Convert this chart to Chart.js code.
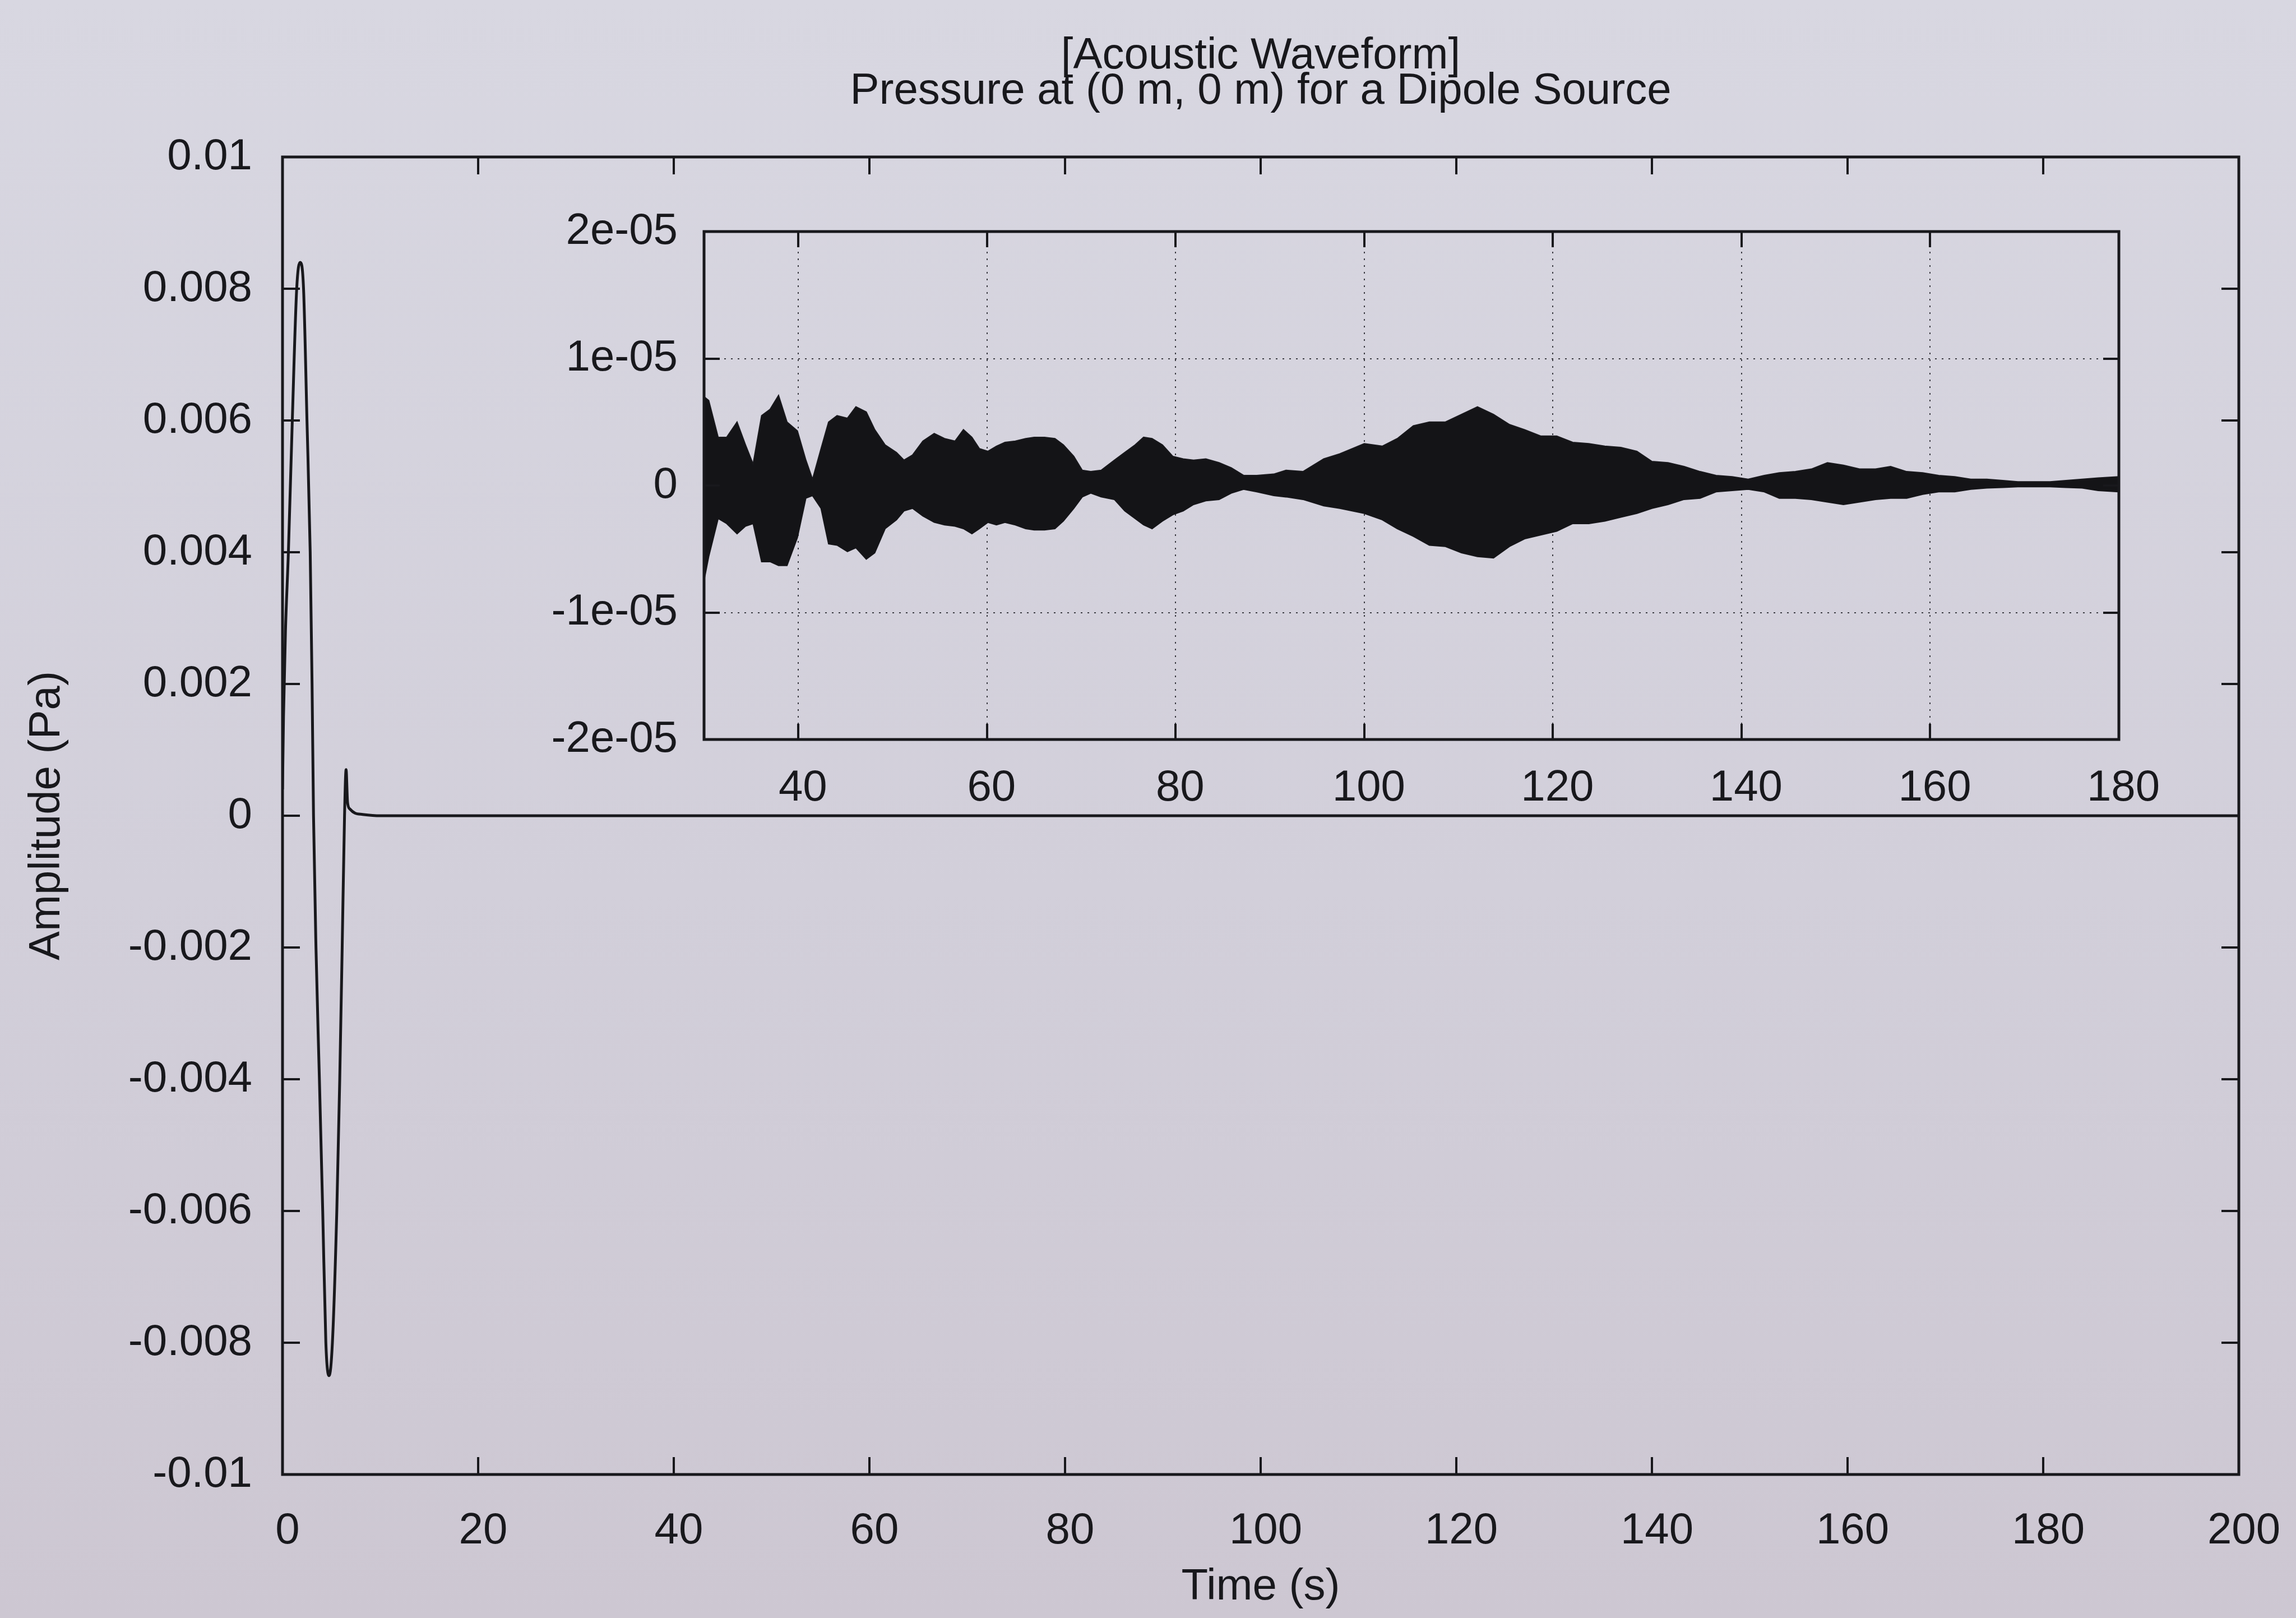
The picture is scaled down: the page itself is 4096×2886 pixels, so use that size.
<!DOCTYPE html>
<html>
<head>
<meta charset="utf-8">
<title>Acoustic Waveform</title>
<script src="https://cdn.jsdelivr.net/npm/chart.js@4.4.1/dist/chart.umd.min.js"></script>
<style>
  html, body { margin: 0; padding: 0; }
  body {
    width: 4096px; height: 2886px; position: relative; overflow: hidden;
    background: linear-gradient(180deg, #d8d7e1 0%, #d2cfda 55%, #cdc7d2 100%);
  }
  #main { position: absolute; left: 0; top: 0; width: 4096px; height: 2886px; }
  #inset { position: absolute; left: 956px; top: 363px; width: 2974px; height: 1106px; }
</style>
</head>
<body>
<canvas id="main" width="4096" height="2886"></canvas>
<canvas id="inset" width="2974" height="1106"></canvas>
<script>
// pressure at the receiver during the direct pulse (s, Pa)
const pulseTime = [0, 0.1, 0.3, 0.6, 1.0, 1.45, 1.8, 2.15, 2.5, 2.83, 3.02, 3.17, 3.42, 3.77, 4.11,
  4.43, 4.76, 5.1, 5.55, 5.85, 6.1, 6.34, 6.5, 6.65, 6.9, 7.4, 8.2, 10, 200];
const pulsePressure = [0.0004, 0.0015, 0.0028, 0.004, 0.006, 0.008, 0.0084, 0.008, 0.006, 0.004, 0.002, 0,
  -0.002, -0.004, -0.006, -0.008, -0.0085, -0.008, -0.006, -0.004, -0.002, 0, 0.0007, 0.0002, 0.0001,
  0.00004, 0.00002, 0, 0];

// late arrivals (30-180 s): upper and lower envelope of the oscillation (Pa)
const insetTime = [30, 30.5, 31.5, 32.4, 33.5, 34.4, 35.2, 36.1, 37.0, 37.9, 38.8, 39.9, 40.8, 41.5,
  42.4, 43.2, 44.1, 45.2, 46.1, 47.2, 48.1, 49.2, 50.4, 51.2, 52.1, 53.2, 54.4, 55.5, 56.6, 57.5, 58.4,
  59.2, 60.1, 61.0, 61.9, 63.0, 64.1, 65.0, 66.1, 67.2, 68.1, 69.2, 70.1, 71.0, 72.1, 73.5, 74.6, 75.7,
  76.6, 77.5, 78.6, 79.7, 80.8, 81.9, 83.2, 84.6, 85.9, 87.2, 88.6, 90.4, 91.7, 93.5, 95.7, 97.4, 100,
  101.9, 103.5, 105.2, 106.9, 108.6, 110.3, 112.0, 113.7, 115.4, 117.0, 118.7, 120.4, 122.1, 123.8,
  125.5, 127.2, 128.9, 130.5, 132.2, 133.9, 135.6, 137.3, 139.0, 140.7, 142.4, 144.0, 145.7, 147.4,
  149.1, 150.8, 152.5, 154.2, 155.8, 157.5, 159.2, 160.9, 162.6, 164.3, 166.0, 167.7, 169.3, 171.0,
  172.7, 174.4, 176.1, 177.8, 180];
const insetUpper = [0.70e-5, 0.67e-5, 0.38e-5, 0.38e-5, 0.50e-5, 0.32e-5, 0.17e-5, 0.55e-5, 0.60e-5,
  0.71e-5, 0.50e-5, 0.43e-5, 0.20e-5, 0.05e-5, 0.29e-5, 0.50e-5, 0.55e-5, 0.53e-5, 0.62e-5, 0.58e-5,
  0.44e-5, 0.32e-5, 0.26e-5, 0.20e-5, 0.24e-5, 0.35e-5, 0.41e-5, 0.37e-5, 0.35e-5, 0.44e-5, 0.38e-5,
  0.29e-5, 0.27e-5, 0.31e-5, 0.34e-5, 0.35e-5, 0.37e-5, 0.38e-5, 0.38e-5, 0.37e-5, 0.32e-5, 0.23e-5,
  0.12e-5, 0.11e-5, 0.12e-5, 0.20e-5, 0.26e-5, 0.32e-5, 0.38e-5, 0.37e-5, 0.32e-5, 0.23e-5, 0.21e-5,
  0.20e-5, 0.21e-5, 0.18e-5, 0.14e-5, 0.08e-5, 0.08e-5, 0.09e-5, 0.12e-5, 0.11e-5, 0.21e-5, 0.25e-5,
  0.33e-5, 0.31e-5, 0.37e-5, 0.47e-5, 0.50e-5, 0.50e-5, 0.56e-5, 0.62e-5, 0.56e-5, 0.48e-5, 0.44e-5,
  0.39e-5, 0.39e-5, 0.34e-5, 0.33e-5, 0.31e-5, 0.30e-5, 0.27e-5, 0.19e-5, 0.18e-5, 0.15e-5, 0.11e-5,
  0.08e-5, 0.07e-5, 0.05e-5, 0.08e-5, 0.10e-5, 0.11e-5, 0.13e-5, 0.18e-5, 0.16e-5, 0.13e-5, 0.13e-5,
  0.15e-5, 0.11e-5, 0.10e-5, 0.08e-5, 0.07e-5, 0.05e-5, 0.05e-5, 0.04e-5, 0.03e-5, 0.03e-5, 0.03e-5,
  0.04e-5, 0.05e-5, 0.06e-5, 0.07e-5];
const insetLower = [-0.75e-5, -0.56e-5, -0.26e-5, -0.30e-5, -0.38e-5, -0.32e-5, -0.30e-5, -0.60e-5,
  -0.60e-5, -0.63e-5, -0.63e-5, -0.41e-5, -0.10e-5, -0.08e-5, -0.18e-5, -0.46e-5, -0.47e-5, -0.52e-5,
  -0.49e-5, -0.58e-5, -0.53e-5, -0.34e-5, -0.27e-5, -0.20e-5, -0.18e-5, -0.24e-5, -0.29e-5, -0.31e-5,
  -0.32e-5, -0.34e-5, -0.38e-5, -0.34e-5, -0.29e-5, -0.31e-5, -0.29e-5, -0.31e-5, -0.34e-5, -0.35e-5,
  -0.35e-5, -0.34e-5, -0.28e-5, -0.18e-5, -0.09e-5, -0.06e-5, -0.09e-5, -0.11e-5, -0.20e-5, -0.26e-5,
  -0.31e-5, -0.34e-5, -0.28e-5, -0.23e-5, -0.20e-5, -0.15e-5, -0.12e-5, -0.11e-5, -0.06e-5, -0.03e-5,
  -0.05e-5, -0.08e-5, -0.09e-5, -0.11e-5, -0.16e-5, -0.18e-5, -0.22e-5, -0.27e-5, -0.34e-5, -0.40e-5,
  -0.47e-5, -0.48e-5, -0.53e-5, -0.56e-5, -0.57e-5, -0.48e-5, -0.42e-5, -0.39e-5, -0.36e-5, -0.30e-5,
  -0.30e-5, -0.28e-5, -0.25e-5, -0.22e-5, -0.18e-5, -0.15e-5, -0.11e-5, -0.10e-5, -0.05e-5, -0.04e-5,
  -0.03e-5, -0.05e-5, -0.10e-5, -0.10e-5, -0.11e-5, -0.13e-5, -0.15e-5, -0.13e-5, -0.11e-5, -0.10e-5,
  -0.10e-5, -0.07e-5, -0.05e-5, -0.05e-5, -0.03e-5, -0.02e-5, -0.015e-5, -0.01e-5, -0.01e-5, -0.01e-5,
  -0.015e-5, -0.02e-5, -0.04e-5, -0.05e-5];

// tick values
const mainXTicks = [0, 20, 40, 60, 80, 100, 120, 140, 160, 180, 200];
const mainYTicks = [-0.01, -0.008, -0.006, -0.004, -0.002, 0, 0.002, 0.004, 0.006, 0.008, 0.01];
const insetXTicks = [40, 60, 80, 100, 120, 140, 160, 180];
const insetYTicks = [-2e-5, -1e-5, 0, 1e-5, 2e-5];

const titleLines = ['[Acoustic Waveform]', 'Pressure at (0 m, 0 m) for a Dipole Source'];

const inkColor = '#18181c';
const fontSize = 78;
const fontFamily = "'Liberation Sans', Arial, Helvetica, sans-serif";
Chart.defaults.font.family = fontFamily;
Chart.defaults.font.size = fontSize;
Chart.defaults.color = inkColor;

// closed frame with inward tick marks on all four sides
const gnuFrame = {
  id: 'gnuFrame',
  afterDatasetsDraw(chart, args, opts) {
    const { ctx, chartArea: a, scales: { x, y } } = chart;
    const len = opts.tickLength;
    ctx.save();
    ctx.strokeStyle = inkColor;
    ctx.lineWidth = opts.tickWidth;
    ctx.beginPath();
    x.ticks.forEach(t => {
      const px = Math.round(x.getPixelForValue(t.value));
      if (px <= a.left + 2 || px >= a.right - 2) return;
      ctx.moveTo(px, a.bottom); ctx.lineTo(px, a.bottom - len);
      ctx.moveTo(px, a.top); ctx.lineTo(px, a.top + len);
    });
    y.ticks.forEach(t => {
      const py = Math.round(y.getPixelForValue(t.value));
      if (py <= a.top + 2 || py >= a.bottom - 2) return;
      ctx.moveTo(a.left, py); ctx.lineTo(a.left + len, py);
      ctx.moveTo(a.right, py); ctx.lineTo(a.right - len, py);
    });
    ctx.stroke();
    ctx.lineWidth = opts.lineWidth;
    ctx.strokeRect(a.left, a.top, a.width, a.height);
    ctx.restore();
  }
};

// two-line heading centred over the plot area
const plotTitle = {
  id: 'plotTitle',
  afterDraw(chart, args, opts) {
    if (!opts.lines) return;
    const { ctx, chartArea: a } = chart;
    ctx.save();
    ctx.font = `${fontSize}px ${fontFamily}`;
    ctx.fillStyle = inkColor;
    ctx.textAlign = 'center';
    ctx.textBaseline = 'middle';
    const cx = (a.left + a.right) / 2;
    opts.lines.forEach((line, i) => ctx.fillText(line, cx, opts.top + i * opts.gap));
    ctx.restore();
  }
};

// keep the axis boxes at a fixed size so the plot area lands where it should
const fixWidth = w => scale => { scale.width = w; scale.paddingTop = 0; scale.paddingBottom = 0; };
const fixHeight = h => scale => { scale.height = h; scale.paddingLeft = 0; scale.paddingRight = 0; };
const useTicks = values => scale => { scale.ticks = values.map(v => ({ value: v })); };

const toPoints = (xs, ys) => xs.map((t, i) => ({ x: t, y: ys[i] }));

// main plot: 0-200 s
new Chart(document.getElementById('main'), {
  type: 'line',
  data: {
    datasets: [{
      label: 'pressure',
      data: toPoints(pulseTime, pulsePressure),
      borderColor: inkColor,
      borderWidth: 5,
      pointRadius: 0,
      cubicInterpolationMode: 'monotone',
      fill: false
    }]
  },
  options: {
    responsive: false,
    animation: false,
    events: [],
    layout: { padding: { left: 0, right: 102, top: 280, bottom: 0 } },
    plugins: {
      legend: { display: false },
      tooltip: { enabled: false },
      plotTitle: { lines: titleLines, top: 100, gap: 63 },
      gnuFrame: { tickLength: 31, tickWidth: 4, lineWidth: 5 }
    },
    scales: {
      x: {
        type: 'linear',
        min: 0, max: 200,
        grid: { display: false },
        border: { display: false },
        afterFit: fixHeight(256),
        afterBuildTicks: useTicks(mainXTicks),
        ticks: { padding: 47, labelOffset: 9, maxRotation: 0, autoSkip: false, callback: v => String(v) },
        title: { display: true, text: 'Time (s)', padding: { top: 0, bottom: 8 } }
      },
      y: {
        type: 'linear',
        min: -0.01, max: 0.01,
        grid: { display: false },
        border: { display: false },
        afterFit: fixWidth(504),
        afterBuildTicks: useTicks(mainYTicks),
        ticks: { padding: 46, autoSkip: false, callback: v => String(+v.toFixed(3)) },
        title: { display: true, text: 'Amplitude (Pa)', padding: { top: 38, bottom: 0 } }
      }
    }
  },
  plugins: [gnuFrame, plotTitle]
});

// inset: 30-180 s, with dotted grid
new Chart(document.getElementById('inset'), {
  type: 'line',
  data: {
    datasets: [{
      label: 'upper',
      data: toPoints(insetTime, insetUpper),
      borderColor: inkColor,
      backgroundColor: '#141417',
      borderWidth: 2,
      pointRadius: 0,
      tension: 0,
      fill: '+1'
    }, {
      label: 'lower',
      data: toPoints(insetTime, insetLower),
      borderColor: inkColor,
      borderWidth: 2,
      pointRadius: 0,
      tension: 0,
      fill: false
    }]
  },
  options: {
    responsive: false,
    animation: false,
    events: [],
    layout: { padding: { left: 0, right: 150, top: 50, bottom: 0 } },
    plugins: {
      legend: { display: false },
      tooltip: { enabled: false },
      gnuFrame: { tickLength: 28, tickWidth: 4, lineWidth: 5 }
    },
    scales: {
      x: {
        type: 'linear',
        min: 30, max: 180,
        grid: { display: true, drawTicks: false, color: '#3c3c43', lineWidth: 2 },
        border: { display: false, dash: [3, 9] },
        afterFit: fixHeight(150),
        afterBuildTicks: useTicks(insetXTicks),
        ticks: { padding: 41, labelOffset: 8, maxRotation: 0, autoSkip: false, callback: v => String(v) }
      },
      y: {
        type: 'linear',
        min: -2e-5, max: 2e-5,
        grid: { display: true, drawTicks: false, color: '#3c3c43', lineWidth: 2 },
        border: { display: false, dash: [3, 9] },
        afterFit: fixWidth(300),
        afterBuildTicks: useTicks(insetYTicks),
        ticks: {
          padding: 47, autoSkip: false,
          callback: v => {
            const n = Math.round(v * 1e5);
            return n === 0 ? '0' : n + 'e-05';
          }
        }
      }
    }
  },
  plugins: [gnuFrame]
});
</script>
</body>
</html>
